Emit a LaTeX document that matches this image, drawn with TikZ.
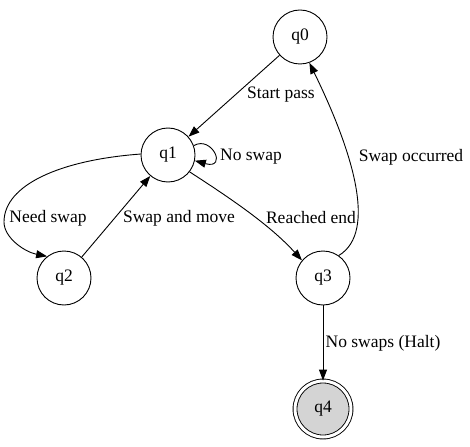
\documentclass[tikz,border=0pt]{standalone}
\usepackage{fontspec}
\setmainfont{Liberation Serif}
\usetikzlibrary{arrows.meta}
\begin{document}
\begin{tikzpicture}[x=1pt,y=-1pt,
  state/.style={circle,draw,line width=0.9pt,minimum size=54pt,inner sep=0pt,font=\fontsize{17.5}{20}\selectfont},
  final/.style={state,fill=black!17,double,double distance=3pt},
  edge/.style={draw,line width=0.9pt,-{Triangle[length=11pt,width=8pt]}},
  lbl/.style={font=\fontsize{17.5}{20}\selectfont,inner sep=0pt}]
\useasboundingbox (0,0) rectangle (470,446);
\node[state] (q0) at (300,37) {q0};
\node[state] (q1) at (168,155) {q1};
\node[state] (q2) at (64,278) {q2};
\node[state] (q3) at (323,278) {q3};
\node[final,minimum size=56pt] (q4) at (323,409) {q4};

\draw[edge] (q0) -- (q1);
\node[lbl] (l01) at (281,95) {Start pass};

\draw[edge] (q1.20) .. controls (212,135) and (228,170) .. (q1.-12);
\node[lbl] (l11) at (251,157) {No swap};

\draw[edge] (q1.178) .. controls (60,160) and (4,185) .. (4,222) .. controls (4,238) and (25,252) .. (q2.128);
\node[lbl] (l12) at (48,218) {Need swap};

\draw[edge] (q2) -- (q1);
\node[lbl] (l21) at (179,218) {Swap and move};

\draw[edge] (q1.-38) .. controls (230,198) and (270,225) .. (q3.140);
\node[lbl] (l13) at (311,218) {Reached end};

\draw[edge] (q3.55) .. controls (378,232) and (352,150) .. (q0.-70);
\node[lbl] (l30) at (411,157) {Swap occurred};

\draw[edge] (q3) -- (q4);
\node[lbl] (l34) at (383,343) {No swaps (Halt)};
\end{tikzpicture}
\end{document}
